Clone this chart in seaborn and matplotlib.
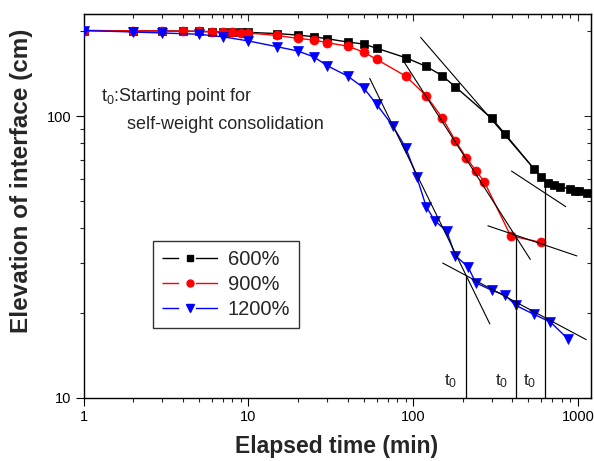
import numpy as np
import pandas as pd
import matplotlib
matplotlib.use("Agg")
import matplotlib.pyplot as plt
import seaborn as sns
from matplotlib.lines import Line2D
from matplotlib.ticker import FixedLocator, NullFormatter, FixedFormatter

# ---------------- data ----------------
series_names = ["600%", "900%", "1200%"]

t_600 = [1, 2, 3, 4, 5, 6, 7, 8, 9, 10, 15, 20, 25, 30, 40, 50, 60, 90, 120, 150, 180,
         300, 360, 540, 600, 660, 720, 780, 900, 960, 1020, 1140]
h_600 = [201, 200.5, 200.3, 200, 199.5, 199.2, 199, 198.7, 198.4, 198, 196, 193.7, 191, 188,
         183, 180, 174, 161, 150, 139, 127, 98, 86.5, 65, 60.6, 57.8, 56.8, 56.2, 55, 54.4,
         54.1, 53.2]

t_900 = [1, 2, 3, 4, 5, 6, 7, 8, 9, 10, 15, 20, 25, 30, 40, 50, 60, 90, 120, 150, 180, 210,
         240, 270, 390, 600]
h_900 = [201, 200.5, 200.3, 200, 199.5, 199, 198.5, 198, 197.5, 197, 193, 188.5, 186, 182,
         177, 168.6, 158.8, 138.6, 118, 98.6, 81.8, 71.2, 64, 58.5, 37.6, 35.6]

t_1200 = [1, 2, 3, 5, 7, 10, 15, 20, 25, 30, 40, 50, 60, 75, 90, 105, 120, 135, 160, 180,
          215, 240, 300, 360, 420, 540, 680, 870]
h_1200 = [201, 198.6, 197, 195, 191, 184.6, 176, 170, 162, 151, 138.6, 126, 110, 92.5, 77.3,
          61, 47.7, 42.6, 39, 32, 29.2, 25.6, 24.1, 23.2, 21.3, 19.8, 18.6, 16.2]

# tangent lines (start/end in time, elevation)
tangent_t = [[111, 640], [395, 843], [88, 514], [284, 985], [54.5, 292], [151, 1123]]
tangent_h = [[190, 58], [63.8, 47.7], [155.6, 31.0], [40.8, 31.9], [136, 18.3], [30.1, 16.1]]

# starting points of self-weight consolidation (t0)
t0_times = [209.6, 423, 632]
t0_heights = [27.3, 37.5, 58]

x_ticks = [1, 10, 100, 1000]
x_ticklabels = ["1", "10", "100", "1000"]
y_ticks = [10, 100]
y_ticklabels = ["10", "100"]

# ---------------- style ----------------
sns.set_style("ticks")
plt.rcParams["font.family"] = ["Liberation Sans", "DejaVu Sans"]
plt.rcParams["mathtext.default"] = "regular"

colors = {"600%": "black", "900%": "red", "1200%": "blue"}
markers = {"600%": "s", "900%": "o", "1200%": "v"}
msizes = {"600%": 6, "900%": 6.5, "1200%": 7.5}

fig = plt.figure(figsize=(5.94, 4.61), dpi=100)
ax = fig.add_axes([0.1406, 0.1367, 0.8544, 0.8329])

frames = []
for name, t, h in [("600%", t_600, h_600), ("900%", t_900, h_900), ("1200%", t_1200, h_1200)]:
    frames.append(pd.DataFrame({"time": t, "elev": h, "series": name}))
df = pd.concat(frames, ignore_index=True)

for i, name in enumerate(series_names):
    sub = df[df["series"] == name]
    sns.lineplot(data=sub, x="time", y="elev", color=colors[name], marker=markers[name],
                 markersize=msizes[name], markeredgecolor=colors[name], markeredgewidth=0.5,
                 linewidth=1.0, estimator=None, sort=False, ax=ax, legend=False, zorder=3 + i)
ax.set_xlabel("")
ax.set_ylabel("")

# tangent lines
for tt, hh in zip(tangent_t, tangent_h):
    ax.plot(tt, hh, color="black", linewidth=0.8, zorder=6)

ax.set_xscale("log")
ax.set_yscale("log")
ax.set_xlim(1, 1200)
ax.set_ylim(10, 230)

# vertical t0 lines and labels
for tx, th in zip(t0_times, t0_heights):
    ax.plot([tx, tx], [10, th], color="black", linewidth=0.9, zorder=6)
    ax.annotate(r"$t_0$", xy=(tx, 11.5), xytext=(-6, 0), textcoords="offset points",
                ha="right", va="center", fontsize=12.5)

# ticks
ax.xaxis.set_major_locator(FixedLocator(x_ticks))
ax.xaxis.set_major_formatter(FixedFormatter(x_ticklabels))
ax.xaxis.set_minor_locator(FixedLocator([m * d for d in [1, 10, 100, 1000] for m in range(2, 10)]))
ax.xaxis.set_minor_formatter(NullFormatter())
ax.yaxis.set_major_locator(FixedLocator(y_ticks))
ax.yaxis.set_major_formatter(FixedFormatter(y_ticklabels))
ax.yaxis.set_minor_locator(FixedLocator([m * d for d in [10, 100] for m in range(2, 10)]))
ax.yaxis.set_minor_formatter(NullFormatter())
ax.tick_params(which="major", direction="out", length=5.5, width=0.8, labelsize=10.5,
               pad=3, colors="black")
ax.tick_params(which="minor", direction="out", length=3, width=0.8)
for sp in ax.spines.values():
    sp.set_visible(True)
    sp.set_linewidth(1.0)
    sp.set_color("black")

# inward ticks on top and right
secx = ax.secondary_xaxis("top")
secx.xaxis.set_major_locator(FixedLocator(x_ticks))
secx.xaxis.set_minor_locator(FixedLocator([m * d for d in [1, 10, 100, 1000] for m in range(2, 10)]))
secx.tick_params(which="both", direction="in", labeltop=False, width=0.8)
secx.tick_params(which="major", length=5)
secx.tick_params(which="minor", length=3)
secy = ax.secondary_yaxis("right")
secy.yaxis.set_major_locator(FixedLocator(y_ticks))
secy.yaxis.set_minor_locator(FixedLocator([m * d for d in [10, 100] for m in range(2, 10)]))
secy.tick_params(which="both", direction="in", labelright=False, width=0.8)
secy.tick_params(which="major", length=5)
secy.tick_params(which="minor", length=3)

# axis labels
fig.text(337.0 / 594, 1 - 446.0 / 461, "Elapsed time (min)", ha="center", va="center",
         fontsize=16.5, fontweight="bold")
fig.text(22.0 / 594, 1 - 181.0 / 461, "Elevation of interface (cm)", ha="center", va="center",
         rotation=90, fontsize=17.5, fontweight="bold")

# annotation text
ax.text(0.034, 0.784, r"$t_0$:Starting point for", transform=ax.transAxes, ha="left",
        va="center", fontsize=13)
ax.text(0.086, 0.711, "self-weight consolidation", transform=ax.transAxes, ha="left",
        va="center", fontsize=13)

# legend
handles = []
for name in series_names:
    seg = Line2D([], [], color=colors[name], linewidth=1.0, linestyle=(0, (12, 12, 16, 100)))
    mk = Line2D([], [], color=colors[name], marker=markers[name], linestyle="none",
                markersize=msizes[name] - 1.5)
    handles.append((seg, mk))
leg = ax.legend(handles, series_names, loc="upper left", bbox_to_anchor=(0.137, 0.409),
                fontsize=14.5, frameon=True, fancybox=False, edgecolor="black",
                handlelength=2.8, handletextpad=0.45, borderpad=0.45, labelspacing=0.3,
                borderaxespad=0)
leg.get_frame().set_linewidth(1.0)
leg.set_zorder(10)

fig.savefig("out.png", dpi=100)
